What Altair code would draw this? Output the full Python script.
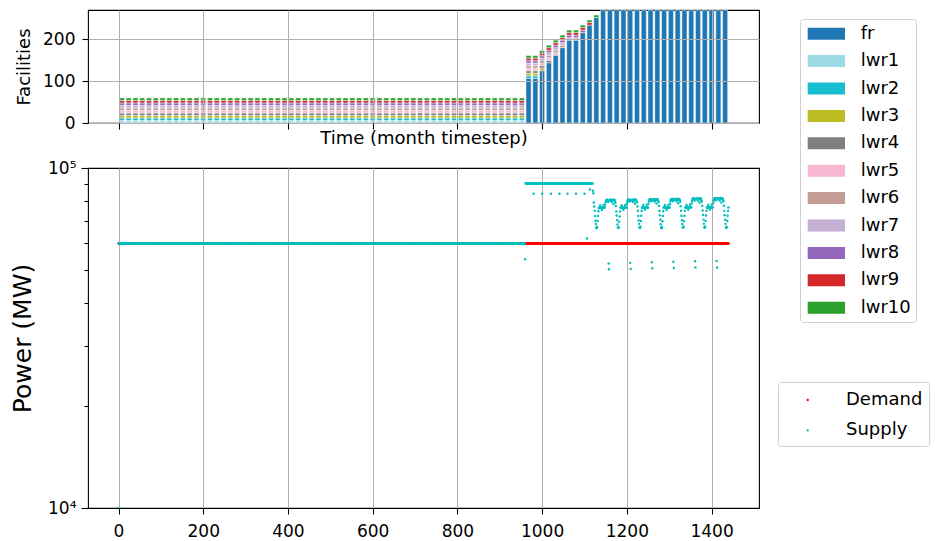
import altair as alt
import pandas as pd

FONT = "DejaVu Sans"

# ---------------- facilities per 16-month step (top panel) ----------------
BAR_STEP = 16
BAR_INSET = 2          # months of white space left and right of each bar
bar_start = list(range(0, 1440, BAR_STEP))

reactor_types = ["fr", "lwr1", "lwr2", "lwr3", "lwr4", "lwr5",
                 "lwr6", "lwr7", "lwr8", "lwr9", "lwr10"]
type_colors = ["#1f77b4", "#9edae5", "#17becf", "#bcbd22", "#7f7f7f",
               "#f7b6d2", "#c49c94", "#c5b0d5", "#9467bd", "#d62728", "#2ca02c"]

# fast reactors online, one value per bar from month 960 on
FR_START = 960
fr_units = [107, 107, 125, 144, 162, 180, 198, 198, 216, 234, 252,
            272, 290, 306, 322, 336, 350, 362, 374, 384, 394, 402,
            410, 416, 422, 426, 430, 434, 436, 438]

# each LWR group keeps its units until the month it is retired
lwr_units = [6, 6, 6, 6, 6, 6, 6, 6, 6, 6]
lwr_retired_at = [960, 992, 1008, 1024, 1040, 1056, 1088, 1104, 1120, 1136]

# ---------------- power (bottom panel), values in thousand MW ----------------
demand_runs = [(0, 1440, 60.0)]
supply_runs = [(0, 0, 10.0), (1, 959, 60.0), (960, 960, 53.9), (961, 1119, 90.0)]
supply_dips = {980: 84.0, 1000: 84.0, 1021: 84.0, 1041: 84.0, 1060: 84.0,
               1080: 84.0, 1100: 84.0, 1106: 62.0, 1113: 86.4}

SUPPLY_CYCLE_START = 1120
supply_lead = [85.7, 84.3]
supply_c1 = [79.2, 77.0, 74.8, 72.2, 70.0, 68.4, 66.9, 66.5, 67.1, 69.8, 72.3, 74.6,
             76.3, 76.6, 76.2, 77.6, 76.5, 76.4, 76.7, 75.2, 76.6, 76.3, 76.5, 77.9,
             76.4, 76.6, 76.5, 78.0, 79.3, 80.3, 80.5, 80.2, 80.7, 80.4, 79.5, 52.4,
             50.4, 80.3, 80.6, 80.5, 80.1, 80.6, 79.4, 80.4, 80.7, 80.2, 78.3, 80.5,
             80.3, 80.6, 79.7]
supply_c2 = [79.0, 77.3, 74.5, 72.5, 70.3, 68.2, 66.8, 66.6, 67.0, 69.5, 72.0, 74.5,
             76.5, 76.3, 76.6, 77.7, 76.4, 76.5, 76.2, 75.3, 76.6, 76.5, 76.4, 77.8,
             76.6, 76.3, 76.5, 78.2, 79.5, 80.4, 80.6, 80.3, 80.8, 80.5, 79.7, 52.6,
             50.5, 80.4, 80.7, 80.4, 80.2, 80.7, 79.5, 80.5, 80.8, 80.3, 78.5, 80.6,
             80.4, 80.7, 79.8]
supply_c3 = [79.3, 77.1, 74.9, 72.3, 70.1, 68.5, 66.9, 66.6, 67.2, 69.9, 72.4, 74.7,
             76.4, 76.7, 76.3, 77.8, 76.5, 76.6, 76.3, 75.4, 76.7, 76.4, 76.6, 78.0,
             76.5, 76.7, 76.4, 78.3, 79.7, 80.6, 80.8, 80.5, 81.0, 80.7, 79.8, 52.8,
             50.7, 80.6, 80.9, 80.6, 80.4, 80.9, 79.7, 80.7, 81.0, 80.5, 78.6, 80.8,
             80.6, 80.9, 80.0]
supply_c4 = [79.5, 77.4, 74.7, 72.6, 70.4, 68.3, 66.8, 66.5, 67.1, 69.7, 72.2, 74.6,
             76.5, 76.4, 76.7, 77.9, 76.4, 76.6, 76.3, 75.3, 76.5, 76.6, 76.4, 77.9,
             76.7, 76.4, 76.6, 78.4, 79.8, 80.8, 81.0, 80.7, 81.2, 80.9, 80.0, 53.0,
             50.8, 80.8, 81.1, 80.8, 80.6, 81.1, 79.9, 80.9, 81.2, 80.7, 78.8, 81.0,
             80.8, 81.1, 80.2]
supply_c5 = [79.6, 77.2, 74.9, 72.4, 70.2, 68.4, 66.9, 66.7, 67.2, 69.8, 72.3, 74.8,
             76.6, 76.4, 76.7, 77.8, 76.5, 76.7, 76.4, 75.4, 76.6, 76.5, 76.7, 78.0,
             76.6, 76.5, 76.7, 78.6, 80.0, 81.0, 81.3, 81.0, 81.5, 81.2, 80.2, 53.2,
             51.0, 81.1, 81.4, 81.1, 80.9, 81.4, 80.1, 81.2, 81.5, 81.0, 79.0, 81.3,
             81.1, 81.4, 80.4]
supply_c6 = [79.7, 77.5, 75.0, 72.7, 70.5, 68.6, 67.0, 66.7, 67.3, 69.9, 72.5, 74.9,
             76.5, 76.7, 76.4, 77.9, 76.6, 76.5, 76.8, 75.5, 76.7, 76.4, 76.6, 78.1,
             76.5, 76.7, 76.6, 78.7, 80.1, 81.1, 81.4, 81.1, 81.6, 81.3, 80.3, 53.3,
             51.0, 81.2, 81.5, 81.2, 81.0, 81.5, 80.2, 81.3, 81.6, 81.1, 79.1, 81.4,
             81.2, 81.5, 80.5]
supply_tail = [79.8, 77.4, 74.8, 72.6, 70.4, 68.5, 66.9, 66.6, 67.2, 69.8, 72.4, 74.8, 76.5]
supply_cycles = [supply_lead, supply_c1, supply_c2, supply_c3,
                 supply_c4, supply_c5, supply_c6, supply_tail]

# ---------------- tables ----------------
fac_rows = []
for t in bar_start:
    fr = fr_units[(t - FR_START) // BAR_STEP] if t >= FR_START else 0
    counts = [fr] + [n if t < r else 0 for n, r in zip(lwr_units, lwr_retired_at)]
    for k, (name, c) in enumerate(zip(reactor_types, counts)):
        if c > 0:
            fac_rows.append({"start": t, "x_lo": t + BAR_INSET,
                             "x_hi": t + BAR_STEP - BAR_INSET, "type": name,
                             "rank": k, "count": c})
fac_df = pd.DataFrame(fac_rows)

pow_rows = []
for a, b, v in demand_runs:
    for t in range(a, b + 1):
        pow_rows.append({"series": "Demand", "t": t, "mw": v * 1000})
supply = {}
for a, b, v in supply_runs:
    for t in range(a, b + 1):
        supply[t] = v
supply.update(supply_dips)
t = SUPPLY_CYCLE_START
for seg in supply_cycles:
    for v in seg:
        supply[t] = v
        t += 1
for t in sorted(supply):
    pow_rows.append({"series": "Supply", "t": t, "mw": supply[t] * 1000})
pow_df = pd.DataFrame(pow_rows)

# ---------------- charts ----------------
x_scale = alt.Scale(domain=[-72, 1512], nice=False, zero=False)
x_ticks = [0, 200, 400, 600, 800, 1000, 1200, 1400]

bars = alt.Chart(fac_df).transform_stack(
    stack="count", groupby=["start"], as_=["y0", "y1"],
    sort=[alt.SortField("rank", order="ascending")],
).mark_bar(stroke="white", strokeWidth=0.45).encode(
    x=alt.X("x_lo:Q", scale=x_scale,
            axis=alt.Axis(values=x_ticks, labels=False, title="Time (month timestep)",
                          titleFontSize=18, titlePadding=0, tickSize=6, grid=True,
                          zindex=1)),
    x2="x_hi:Q",
    y=alt.Y("y0:Q", scale=alt.Scale(domain=[0, 270], nice=False, clamp=True),
            axis=alt.Axis(values=[0, 100, 200], title="Facilities", titleFontSize=18,
                          titlePadding=9, labelFontSize=17, labelPadding=7,
                          tickSize=6, grid=True, zindex=1)),
    y2="y1:Q",
    fill=alt.Fill("type:N", scale=alt.Scale(domain=reactor_types, range=type_colors),
                  legend=alt.Legend(title=None, orient="none", legendX=712, legendY=9,
                                    symbolType="M-0.7,-0.6H3.03V0.6H-0.7Z",
                                    symbolSize=400, symbolStrokeWidth=0,
                                    symbolOpacity=1, labelFontSize=18,
                                    labelFont=FONT, labelOffset=36, rowPadding=8.4,
                                    padding=4.7, strokeColor="#d0d0d0",
                                    fillColor="white", cornerRadius=3)),
).properties(width=671, height=113)

major = "datum.value == 10000 || datum.value == 100000"
power = alt.Chart(pow_df).mark_circle(size=6, opacity=1, clip=True).encode(
    x=alt.X("t:Q", scale=x_scale,
            axis=alt.Axis(values=x_ticks, title=None, labelFontSize=17, format="d",
                          labelPadding=9, tickSize=6, grid=True, labelFlush=False)),
    y=alt.Y("mw:Q", scale=alt.Scale(type="log", domain=[10000, 100000], nice=False),
            axis=alt.Axis(values=[10000, 20000, 30000, 40000, 50000, 60000,
                                  70000, 80000, 90000, 100000],
                          labelExpr="datum.value == 10000 ? '10⁴' : "
                                    "(datum.value == 100000 ? '10⁵' : '')",
                          title="Power (MW)", titleFontSize=25, titlePadding=12,
                          labelFontSize=17, labelPadding=5, grid=False,
                          labelOverlap=False,
                          tickSize={"condition": {"test": major, "value": 7},
                                    "value": 4})),
    color=alt.Color("series:N",
                    scale=alt.Scale(domain=["Demand", "Supply"],
                                    range=["#ff0000", "#00bfbf"]),
                    legend=alt.Legend(title=None, orient="none", legendX=690,
                                      legendY=372,
                                      symbolType="M1.075,0A0.1,0.1 0 1,1 0.875,0A0.1,0.1 0 1,1 1.075,0Z",
                                      symbolSize=576, symbolStrokeWidth=0,
                                      symbolOpacity=1, labelFontSize=18,
                                      labelFont=FONT, labelOffset=38, rowPadding=9.4,
                                      padding=6, strokeColor="#d0d0d0",
                                      fillColor="white", cornerRadius=3)),
).properties(width=671, height=340)

chart = (
    alt.vconcat(bars, power, spacing=9)
    .properties(padding={"left": 10, "top": 9, "right": 0, "bottom": 0})
    .configure(font=FONT)
    .configure_view(stroke="black", strokeWidth=1.1)
    .configure_axis(domain=False, tickColor="black", tickWidth=1.1,
                    labelColor="black", titleColor="black",
                    titleFontWeight="normal", gridColor="#b0b0b0", gridWidth=1,
                    labelFont=FONT, titleFont=FONT)
)

chart.save("out.html", embed_options={"renderer": "svg", "actions": False})
